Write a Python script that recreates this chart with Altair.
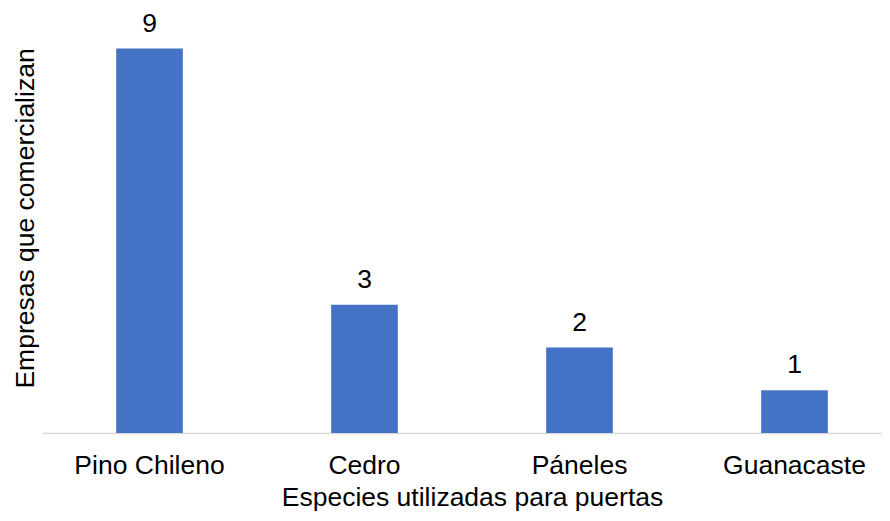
import altair as alt
import pandas as pd

categorias = ["Pino Chileno", "Cedro", "Páneles", "Guanacaste"]
empresas = [9, 3, 2, 1]

df = pd.DataFrame({"especie": categorias, "empresas": empresas})

FONT = "Liberation Sans"
FS = 26.5

x = alt.X(
    "especie:N",
    sort=categorias,
    scale=alt.Scale(range=[0, 860], paddingInner=0.69, paddingOuter=0.345),
    axis=alt.Axis(
        title="Especies utilizadas para puertas",
        labelAngle=0,
        ticks=False,
        tickSize=0,
        labelPadding=40,
        labelBaseline="alphabetic",
        labelFont=FONT,
        labelFontSize=FS,
        labelColor="#000000",
        titleFont=FONT,
        titleFontSize=FS,
        titleFontWeight="normal",
        titleColor="#000000",
        titleY=72,
        titleBaseline="alphabetic",
        domainColor="#D9D9D9",
        domainWidth=1.5,
        grid=False,
    ),
)

y = alt.Y(
    "empresas:Q",
    scale=alt.Scale(domain=[0, 9.95], nice=False),
    axis=alt.Axis(
        title="Empresas que comercializan",
        labels=False,
        ticks=False,
        domain=False,
        grid=False,
        titleFont=FONT,
        titleFontSize=FS,
        titleFontWeight="normal",
        titleColor="#000000",
        titleX=-9,
        titleY=210,
        titleAlign="center",
        titleBaseline="alphabetic",
        titleAngle=270,
    ),
)

base = alt.Chart(df)
bars = base.mark_bar(color="#4472C4").encode(x=x, y=y)
labels = base.mark_text(
    font=FONT, fontSize=FS, color="#000000", baseline="alphabetic", dy=-17
).encode(x=x, y=y, text="empresas:Q")

chart = (
    (bars + labels)
    .properties(
        width=840,
        height=425,
        background="white",
        autosize=alt.AutoSizeParams(type="none"),
        padding={"left": 34, "top": 0, "right": 0, "bottom": 80},
    )
    .configure_view(stroke=None, strokeWidth=0)
)

chart.save("out.html", embed_options={"renderer": "svg", "actions": False})
